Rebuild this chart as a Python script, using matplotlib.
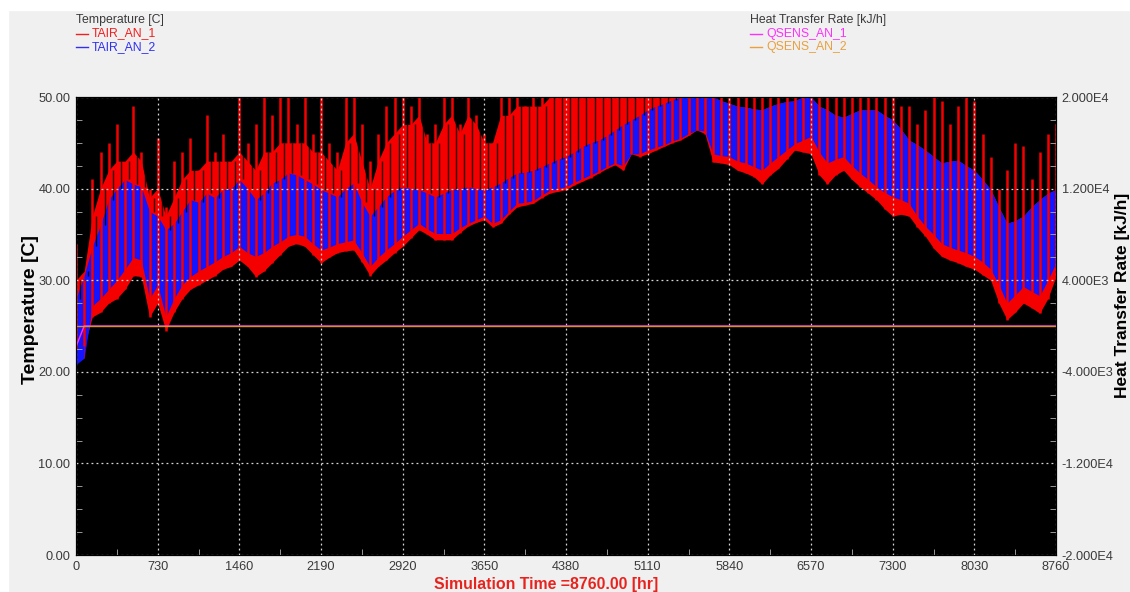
import matplotlib
matplotlib.use("Agg")
from matplotlib import pyplot as plt
from matplotlib.patches import Rectangle
from matplotlib.lines import Line2D
from matplotlib.ticker import MultipleLocator, FuncFormatter
import numpy as np

plt.rcParams['font.family'] = ['Liberation Sans', 'DejaVu Sans']

###################      data (73 h steps)      #########################################
hours = np.arange(0, 8761, 73)

# TAIR_AN_1: lower edge, top of the dense band, tips of the spikes
tair1_lo = [22.5, 22.8, 26.0, 26.5, 27.5, 28.0, 29.0, 30.5, 30.4, 26.0,
            27.5, 24.5, 26.5, 28.0, 29.0, 29.5, 30.0, 30.5, 31.2, 31.5,
            32.2, 31.5, 30.4, 31.0, 31.9, 32.8, 33.7, 34.0, 33.7, 32.8,
            31.9, 32.5, 33.0, 33.2, 33.3, 32.0, 30.5, 31.5, 32.2, 33.0,
            33.7, 34.6, 35.5, 35.0, 34.4, 34.4, 34.4, 35.2, 35.9, 36.3,
            36.6, 35.8, 36.2, 37.2, 38.0, 38.2, 38.4, 39.0, 39.5, 39.7,
            39.9, 40.4, 40.8, 41.2, 41.7, 42.2, 42.6, 42.0, 43.8, 43.5,
            43.8, 44.2, 44.6, 45.0, 45.3, 45.8, 46.4, 46.0, 42.9, 42.8,
            42.6, 42.0, 41.7, 41.3, 40.5, 41.5, 42.2, 43.2, 44.2, 44.0,
            43.8, 41.5, 40.5, 41.5, 42.0, 41.0, 40.2, 39.5, 38.8, 37.8,
            37.0, 37.2, 37.0, 35.8, 34.8, 33.5, 32.6, 32.2, 31.9, 31.5,
            31.2, 30.6, 30.0, 27.5, 25.7, 26.5, 27.5, 27.0, 26.4, 28.0,
            30.4]

tair1_mid = [30, 31, 37, 40, 42, 43, 43, 44, 43, 39,
             40, 37, 39, 41, 42, 42, 43, 43, 43, 43,
             44, 43, 42, 44, 44, 45, 45, 45, 45, 44,
             44, 43, 42, 45, 46, 43, 40, 43, 45, 46,
             47, 47, 48, 45, 45, 47, 48, 46, 48, 47,
             45, 45, 48, 48, 49, 49, 49, 49, 50, 50,
             50, 50, 50, 50, 50, 50, 50, 50, 50, 50,
             50, 50, 50, 50, 50, 50, 50, 50, 50, 49.6,
             49.3, 49.0, 48.9, 48.7, 48.6, 49.0, 49.3, 49.5, 49.6, 50,
             50, 49.0, 48.6, 48.0, 47.8, 48.2, 48.6, 48.6, 48.6, 48.0,
             47.5, 46.5, 45.3, 44.8, 44.2, 43.5, 42.8, 43.0, 43.1, 42.5,
             42.0, 41.0, 39.9, 38.0, 36.2, 36.5, 37.0, 38.0, 38.8, 39.5,
             39.9]

tair1_hi = [34, 30, 41, 44, 45, 47, 42, 49, 44, 40,
            45.5, 38, 43, 44, 45.5, 42, 48, 44, 46, 42,
            50, 45, 47, 50, 48, 50, 50, 47, 50, 46,
            50, 45, 44, 50, 50, 47, 43, 46, 49, 50,
            50, 49, 50, 46, 47, 50, 50, 47, 50, 48,
            46, 45, 50, 50, 50, 49, 50, 50, 50, 50,
            50, 50, 50, 50, 50, 50, 50, 50, 50, 50,
            50, 50, 50, 50, 50, 50, 50, 50, 50, 50,
            50, 50, 50, 50, 50, 50, 50, 50, 50, 50,
            50, 50, 50, 50, 50, 50, 50, 50, 50, 50,
            50, 49, 49, 47, 48.6, 50, 49.6, 47, 49, 50,
            49.6, 46, 43.5, 40, 42, 45, 44.6, 41, 44, 46,
            47]

# TAIR_AN_2: lower and upper edge of the band
tair2_lo = [20.8, 21.5, 27.2, 28.0, 29.0, 30.0, 31.2, 32.5, 32.2, 28.0,
            29.5, 26.0, 28.0, 29.5, 30.4, 31.0, 31.5, 32.0, 32.6, 33.0,
            33.7, 33.0, 32.6, 33.0, 33.7, 34.2, 34.8, 35.0, 34.8, 34.0,
            33.3, 33.6, 34.0, 34.2, 34.4, 33.0, 31.5, 32.5, 33.3, 34.0,
            34.8, 35.5, 36.2, 35.6, 35.1, 35.1, 35.1, 35.7, 36.2, 36.6,
            37.0, 36.2, 36.6, 37.5, 38.4, 38.5, 38.7, 39.3, 39.8, 40.0,
            40.2, 40.7, 41.1, 41.5, 41.9, 42.4, 42.8, 42.5, 43.8, 43.8,
            44.2, 44.5, 44.8, 45.2, 45.5, 46.0, 46.4, 46.3, 43.8, 43.6,
            43.5, 43.0, 42.8, 42.4, 42.0, 42.8, 43.5, 44.2, 44.9, 45.3,
            45.7, 44.0, 42.8, 43.2, 43.5, 42.5, 41.7, 41.0, 40.2, 39.6,
            39.1, 38.8, 38.4, 37.0, 35.9, 35.0, 34.0, 33.6, 33.3, 33.0,
            32.6, 32.0, 31.2, 29.5, 27.5, 28.4, 29.3, 28.8, 28.3, 30.0,
            31.9]

tair2_hi = [28.0, 30.5, 33.7, 36.0, 38.8, 40.0, 41.0, 40.5, 40.2, 37.5,
            37.0, 35.5, 36.2, 37.5, 38.8, 38.5, 39.5, 39.0, 39.9, 40.0,
            41.0, 40.0, 38.8, 39.5, 40.6, 41.0, 41.7, 41.5, 41.0, 40.5,
            39.9, 39.5, 39.1, 40.0, 40.6, 38.5, 37.0, 38.0, 39.1, 39.8,
            40.2, 40.0, 39.9, 39.5, 39.1, 39.5, 39.9, 40.0, 40.2, 40.0,
            39.9, 40.2, 40.6, 41.2, 41.7, 41.8, 42.0, 42.4, 42.8, 43.2,
            43.5, 44.0, 44.6, 45.0, 45.3, 45.8, 46.4, 47.0, 47.5, 48.0,
            48.6, 49.0, 49.3, 49.7, 50.0, 50.0, 50.0, 50.0, 50.0, 49.6,
            49.3, 49.0, 48.9, 48.7, 48.6, 49.0, 49.3, 49.5, 49.6, 50.0,
            50.0, 49.0, 48.6, 48.0, 47.8, 48.2, 48.6, 48.6, 48.6, 48.0,
            47.5, 46.5, 45.3, 44.8, 44.2, 43.5, 42.8, 43.0, 43.1, 42.5,
            42.0, 41.0, 39.9, 38.0, 36.2, 36.5, 37.0, 38.0, 38.8, 39.5,
            39.9]

q_hours = [0, 73, 8760]
qsens1 = [-1800, 0, 0]
qsens2 = [0, 0, 0]

RED = '#f40000'
BLUE = '#1414ff'

###################      figure         #######################
W, H = 1130, 592
fig = plt.figure(figsize=(W / 100, H / 100), dpi=100, facecolor='#f0f0f0')
fig.add_artist(Rectangle((0, 1 - 10 / H), 1, 10 / H, transform=fig.transFigure,
                         color='white', zorder=0))
fig.add_artist(Rectangle((0, 0), 8 / W, 1, transform=fig.transFigure,
                         color='white', zorder=0))

ax = fig.add_axes([76 / W, 37 / H, 980 / W, 458 / H])
ax.set_facecolor('black')

# red: dense band + spikes, blue band on top with red strokes showing through
ax.fill_between(hours, tair1_lo, tair1_mid, color=RED, lw=0)
ax.vlines(hours, tair1_lo, tair1_hi, color=RED, lw=1.8)
ax.vlines(hours + 36.5, tair2_hi, tair1_mid, color='black', lw=1.0, alpha=0.8)
ax.fill_between(hours, tair2_lo, tair2_hi, color=BLUE, lw=0)
ax.vlines(hours, tair2_lo, tair2_hi, color=RED, lw=0.8, alpha=0.45)

ax.set_xlim(0, 8760)
ax.set_ylim(0, 50)
ax.set_xticks(np.arange(0, 8761, 730))
ax.set_yticks(np.arange(0, 51, 10))
ax.xaxis.set_minor_locator(MultipleLocator(365))
ax.yaxis.set_minor_locator(MultipleLocator(2.5))
ax.yaxis.set_major_formatter(FuncFormatter(lambda v, p: f'{v:.2f}'))
ax.grid(True, which='major', color='#d8d8d8', linestyle=(0, (1.5, 2.5)), lw=0.9)
ax.set_axisbelow(False)
ax.tick_params(which='major', length=0, labelsize=9.2, labelcolor='#3a3a3a', pad=4)
ax.tick_params(which='minor', direction='in', length=4, color='#b0b0b0')
for s in ax.spines.values():
    s.set_color('black')

ax2 = ax.twinx()
ax2.plot(q_hours, qsens1, color='#ff30ff', lw=1)
ax2.plot(q_hours, qsens2, color='#d89030', lw=1)
ax2.set_ylim(-2e4, 2e4)
ax2.set_yticks(np.arange(-20000, 20001, 8000))
ax2.yaxis.set_minor_locator(MultipleLocator(2000))


def sci(v, p):
    m, e = f'{v:.3E}'.split('E')
    return f'{m}E{int(e)}'


ax2.yaxis.set_major_formatter(FuncFormatter(sci))
ax2.tick_params(which='major', length=0, labelsize=9.2, labelcolor='#3a3a3a', pad=4)
ax2.tick_params(which='minor', direction='in', length=4, color='#b0b0b0')
for s in ax2.spines.values():
    s.set_color('black')

###################      labels         #######################
fig.text(31 / W, 1 - 310 / H, 'Temperature [C]', rotation=90, ha='center', va='center',
         fontsize=14, fontweight='bold', color='black')
fig.text(1122 / W, 1 - 295 / H, 'Heat Transfer Rate [kJ/h]', rotation=90, ha='center',
         va='center', fontsize=12.5, fontweight='bold', color='black')
fig.text(546 / W, 1 - 584 / H, 'Simulation Time =8760.00 [hr]', ha='center', va='center',
         fontsize=11.4, fontweight='bold', color='#e8231e')

# legends at the top
def legend_block(x0, title, names, colors):
    fig.text(x0 / W, 1 - 20 / H, title, ha='left', va='center', fontsize=8.8, color='#3a3a3a')
    for k, (n, c) in enumerate(zip(names, colors)):
        yy = 1 - (33.5 + 13.5 * k) / H
        fig.add_artist(Line2D([x0 / W, (x0 + 12) / W], [yy, yy], color=c, lw=1,
                              transform=fig.transFigure))
        fig.text((x0 + 16) / W, yy, n, ha='left', va='center', fontsize=8.8, color=c)


legend_block(76, 'Temperature [C]', ['TAIR_AN_1', 'TAIR_AN_2'], ['#f02020', '#3030f0'])
legend_block(750, 'Heat Transfer Rate [kJ/h]', ['QSENS_AN_1', 'QSENS_AN_2'],
             ['#ff30ff', '#e8a040'])

fig.savefig('out.png', dpi=100, facecolor=fig.get_facecolor())
